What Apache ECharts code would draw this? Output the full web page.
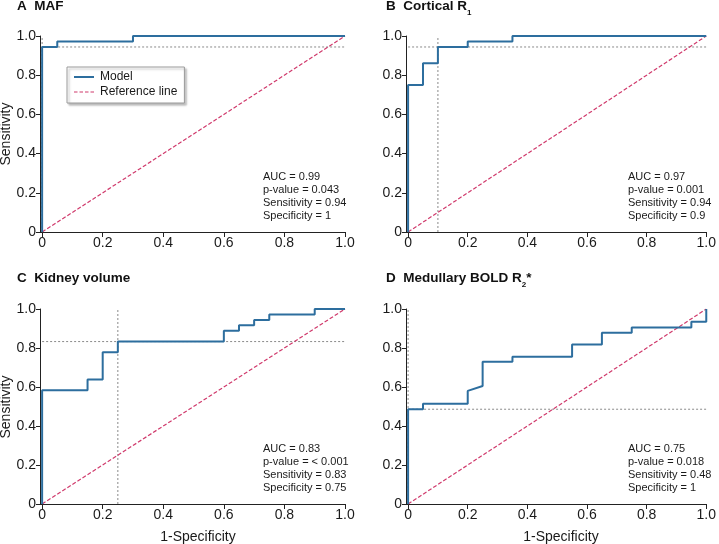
<!DOCTYPE html>
<html><head><meta charset="utf-8">
<script src="https://cdn.jsdelivr.net/npm/echarts@6/dist/echarts.min.js"></script>
<style>html,body{margin:0;padding:0;background:#fff}#c{width:719px;height:544px}</style>
</head><body><div id="c"></div>
<script>
// ---- data ----
const panelLetters = ['A', 'B', 'C', 'D'];
const panelNames = ['MAF', 'Cortical R', 'Kidney volume', 'Medullary BOLD R'];
const panelSubs = ['', '1', '', '2'];
const panelSuffix = ['', '', '', '*'];

const fprMAF = [0, 0, 0.05, 0.05, 0.3, 0.3, 1];
const tprMAF = [0, 0.944, 0.944, 0.972, 0.972, 1, 1];
const fprCortR1 = [0, 0, 0.05, 0.05, 0.1, 0.1, 0.2, 0.2, 0.35, 0.35, 1];
const tprCortR1 = [0, 0.75, 0.75, 0.861, 0.861, 0.944, 0.944, 0.972, 0.972, 1, 1];
const fprVolume = [0, 0, 0.15, 0.15, 0.2, 0.2, 0.25, 0.25, 0.6, 0.6, 0.65, 0.65, 0.7, 0.7, 0.75, 0.75, 0.9, 0.9, 1];
const tprVolume = [0, 0.583, 0.583, 0.639, 0.639, 0.778, 0.778, 0.833, 0.833, 0.889, 0.889, 0.917, 0.917, 0.944, 0.944, 0.972, 0.972, 1, 1];
const fprBoldR2 = [0, 0, 0.05, 0.05, 0.2, 0.2, 0.25, 0.25, 0.35, 0.35, 0.55, 0.55, 0.65, 0.65, 0.75, 0.75, 0.95, 0.95, 1, 1];
const tprBoldR2 = [0, 0.486, 0.486, 0.514, 0.514, 0.58, 0.605, 0.73, 0.73, 0.755, 0.755, 0.818, 0.818, 0.878, 0.878, 0.905, 0.905, 0.935, 0.935, 1];

const refX = [0, 1];
const refY = [0, 1];

// optimal cut-off point (1-specificity, sensitivity)
const cutFPR = [0, 0.1, 0.25, 0];
const cutTPR = [0.944, 0.944, 0.833, 0.486];

const aucVals = ['0.99', '0.97', '0.83', '0.75'];
const pVals = ['0.043', '0.001', '< 0.001', '0.018'];
const sensVals = ['0.94', '0.94', '0.83', '0.48'];
const specVals = ['1', '0.9', '0.75', '1'];

const tickVals = [0, 0.2, 0.4, 0.6, 0.8, 1.0];
const tickLabels = ['0', '0.2', '0.4', '0.6', '0.8', '1.0'];

const legendNames = ['Model', 'Reference line'];
const yAxisName = 'Sensitivity';
const xAxisName = '1-Specificity';

// ---- styling / layout ----
const FONT = '"Liberation Sans", Arial, Helvetica, sans-serif';
const BLUE = '#2d6e9e';
const PINK = '#d03a6c';
const GREY = '#8a8a8a';
const AX = '#222';

const fprs = [fprMAF, fprCortR1, fprVolume, fprBoldR2];
const tprs = [tprMAF, tprCortR1, tprVolume, tprBoldR2];

const grids = [
  {left: 40, top: 36, width: 305, height: 196},
  {left: 406, top: 36, width: 305, height: 196},
  {left: 40, top: 309, width: 305, height: 195},
  {left: 406, top: 309, width: 305, height: 195}
];
const titlePos = [[17, -4], [386, -4], [17, 268], [386, 268]];
const notePos = [[263, 170], [628, 170], [263, 442], [628, 442]];

const fmt = v => {
  const i = tickVals.findIndex(t => Math.abs(t - v) < 1e-9);
  return i >= 0 ? tickLabels[i] : '';
};

const xAxes = [], yAxes = [], series = [], titles = [];
for (let i = 0; i < 4; i++) {
  xAxes.push({
    type: 'value', gridIndex: i, min: -0.007, max: 1,
    axisLine: {show: true, onZero: false, lineStyle: {color: AX, width: 1}},
    axisTick: {show: true, inside: false, length: 5, customValues: tickVals, lineStyle: {color: AX}},
    axisLabel: {customValues: tickVals, formatter: fmt, fontSize: 14, color: '#1a1a1a', margin: 4, fontFamily: FONT},
    splitLine: {show: false}
  });
  yAxes.push({
    type: 'value', gridIndex: i, min: 0, max: 1, interval: 0.2,
    axisLine: {show: true, onZero: false, lineStyle: {color: AX, width: 1}},
    axisTick: {show: true, inside: false, length: 4, lineStyle: {color: AX}},
    axisLabel: {formatter: fmt, fontSize: 14, color: '#1a1a1a', margin: 4, fontFamily: FONT},
    splitLine: {show: false}
  });
  const common = {type: 'line', xAxisIndex: i, yAxisIndex: i, symbol: 'none', silent: true, animation: false};
  series.push(Object.assign({}, common, {
    name: 'cutH' + i,
    data: refX.map(x => [x, cutTPR[i]]),
    lineStyle: {color: GREY, width: 1, type: [2, 2]}, z: 1
  }));
  series.push(Object.assign({}, common, {
    name: 'cutV' + i,
    data: refY.map(y => [cutFPR[i], y]),
    lineStyle: {color: GREY, width: 1, type: [2, 2]}, z: 1
  }));
  series.push(Object.assign({}, common, {
    name: 'Reference line',
    data: refX.map((x, k) => [x, refY[k]]),
    color: PINK,
    lineStyle: {color: PINK, width: 1.2, type: [4, 2]}, z: 2
  }));
  series.push(Object.assign({}, common, {
    name: 'Model',
    data: fprs[i].map((x, k) => [x, tprs[i][k]]),
    color: BLUE,
    lineStyle: {color: BLUE, width: 2}, z: 3
  }));

  let t = '{n|' + panelLetters[i] + '  ' + panelNames[i] + '}';
  if (panelSubs[i]) t += '{s|' + panelSubs[i] + '}';
  if (panelSuffix[i]) t += '{n|' + panelSuffix[i] + '}';
  titles.push({
    text: t, left: titlePos[i][0], top: titlePos[i][1], padding: 0,
    textStyle: {
      rich: {
        n: {fontSize: 13.5, fontWeight: 'bold', fontFamily: FONT, color: '#111', lineHeight: 21},
        s: {fontSize: 8, fontWeight: 'bold', fontFamily: FONT, color: '#111', lineHeight: 6, verticalAlign: 'bottom'}
      }
    }
  });
  titles.push({
    text: ['AUC = ' + aucVals[i], 'p-value = ' + pVals[i], 'Sensitivity = ' + sensVals[i], 'Specificity = ' + specVals[i]].join('\n'),
    left: notePos[i][0], top: notePos[i][1], padding: 0,
    textStyle: {fontSize: 11, fontWeight: 'normal', fontFamily: FONT, color: '#1a1a1a', lineHeight: 13}
  });
}

const graphic = [
  {type: 'text', x: 6, y: 134, rotation: Math.PI / 2, style: {text: yAxisName, font: '14px ' + FONT, fill: '#1a1a1a', textAlign: 'center', textVerticalAlign: 'middle'}},
  {type: 'text', x: 6, y: 407, rotation: Math.PI / 2, style: {text: yAxisName, font: '14px ' + FONT, fill: '#1a1a1a', textAlign: 'center', textVerticalAlign: 'middle'}},
  {type: 'text', x: 198, y: 537, style: {text: xAxisName, font: '14px ' + FONT, fill: '#1a1a1a', textAlign: 'center', textVerticalAlign: 'middle'}},
  {type: 'text', x: 561, y: 537, style: {text: xAxisName, font: '14px ' + FONT, fill: '#1a1a1a', textAlign: 'center', textVerticalAlign: 'middle'}}
];

const legendIcons = [
  'path://M0,0H20V2H0Z',
  'path://M0,0.4H3.5V1.6H0Z M5.5,0.4H9V1.6H5.5Z M11,0.4H14.5V1.6H11Z M16.5,0.4H20V1.6H16.5Z'
];

const chart = echarts.init(document.getElementById('c'), null, {renderer: 'canvas'});
chart.setOption({
  backgroundColor: '#fff',
  animation: false,
  title: titles,
  grid: grids,
  xAxis: xAxes,
  yAxis: yAxes,
  legend: {
    data: legendNames.map((n, k) => ({name: n, icon: legendIcons[k]})),
    orient: 'vertical', left: 67, top: 67,
    padding: [3, 7, 4, 7], itemGap: 1, itemWidth: 20, itemHeight: 2,
    backgroundColor: '#fff', borderColor: '#9a9a9a', borderWidth: 1,
    shadowColor: 'rgba(0,0,0,0.25)', shadowBlur: 2, shadowOffsetX: 2, shadowOffsetY: 2,
    textStyle: {fontSize: 12, fontFamily: FONT, color: '#1a1a1a', lineHeight: 14, padding: [0, 0, 0, 1]},
    selectedMode: false
  },
  graphic: graphic,
  series: series
});
</script></body></html>
